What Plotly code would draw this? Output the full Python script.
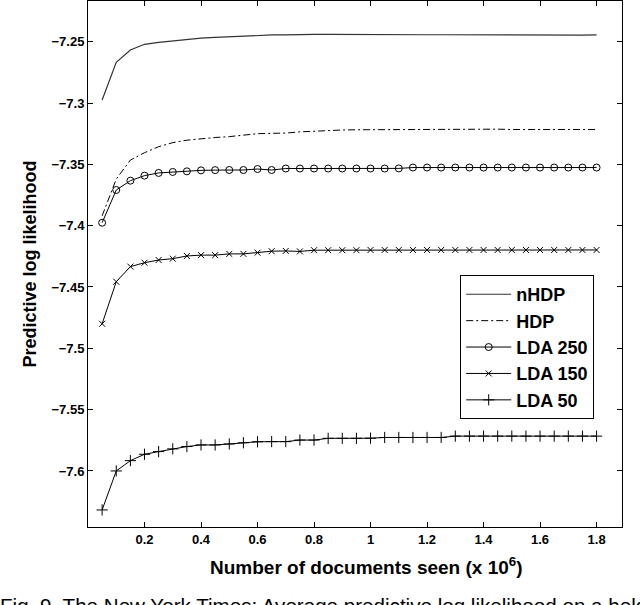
import plotly.graph_objects as go

docs_seen = [0.05, 0.10, 0.15, 0.20, 0.25, 0.30, 0.35, 0.40, 0.45, 0.50, 0.55, 0.60,
             0.65, 0.70, 0.75, 0.80, 0.85, 0.90, 0.95, 1.00, 1.05, 1.10, 1.15, 1.20,
             1.25, 1.30, 1.35, 1.40, 1.45, 1.50, 1.55, 1.60, 1.65, 1.70, 1.75, 1.80]

nhdp = [-7.2975, -7.2668, -7.2568, -7.2521, -7.2505, -7.2492, -7.2480, -7.2470, -7.2465, -7.2459, -7.2452, -7.2446,
        -7.2445, -7.2445, -7.2441, -7.2440, -7.2440, -7.2441, -7.2444, -7.2443, -7.2444, -7.2442, -7.2444, -7.2443,
        -7.2443, -7.2444, -7.2444, -7.2444, -7.2444, -7.2444, -7.2444, -7.2444, -7.2448, -7.2452, -7.2447, -7.2445]

hdp = [-7.3920, -7.3620, -7.3465, -7.3405, -7.3356, -7.3323, -7.3303, -7.3290, -7.3281, -7.3274, -7.3262, -7.3250,
       -7.3247, -7.3245, -7.3235, -7.3228, -7.3222, -7.3220, -7.3218, -7.3217, -7.3217, -7.3216, -7.3217, -7.3217,
       -7.3216, -7.3217, -7.3214, -7.3212, -7.3213, -7.3216, -7.3217, -7.3216, -7.3217, -7.3216, -7.3217, -7.3216]

lda250 = [-7.3976, -7.3709, -7.3633, -7.3592, -7.3570, -7.3562, -7.3557, -7.3549, -7.3547, -7.3546, -7.3546, -7.3538,
          -7.3546, -7.3534, -7.3534, -7.3534, -7.3534, -7.3534, -7.3534, -7.3534, -7.3534, -7.3533, -7.3526, -7.3526,
          -7.3526, -7.3526, -7.3526, -7.3526, -7.3526, -7.3526, -7.3526, -7.3526, -7.3526, -7.3526, -7.3526, -7.3526]

lda150 = [-7.4800, -7.4457, -7.4334, -7.4302, -7.4280, -7.4269, -7.4247, -7.4240, -7.4240, -7.4230, -7.4230, -7.4220,
          -7.4208, -7.4206, -7.4210, -7.4200, -7.4200, -7.4200, -7.4200, -7.4198, -7.4198, -7.4198, -7.4198, -7.4198,
          -7.4198, -7.4198, -7.4198, -7.4198, -7.4198, -7.4198, -7.4198, -7.4198, -7.4198, -7.4198, -7.4198, -7.4198]

lda50 = [-7.6318, -7.6000, -7.5916, -7.5864, -7.5842, -7.5820, -7.5801, -7.5788, -7.5788, -7.5780, -7.5770, -7.5762,
         -7.5761, -7.5761, -7.5748, -7.5748, -7.5734, -7.5734, -7.5734, -7.5733, -7.5727, -7.5727, -7.5727, -7.5727,
         -7.5727, -7.5716, -7.5716, -7.5716, -7.5716, -7.5716, -7.5716, -7.5716, -7.5716, -7.5716, -7.5716, -7.5716]

x_ticks = [0.2, 0.4, 0.6, 0.8, 1.0, 1.2, 1.4, 1.6, 1.8]
x_tick_labels = ["0.2", "0.4", "0.6", "0.8", "1", "1.2", "1.4", "1.6", "1.8"]
y_ticks = [-7.25, -7.3, -7.35, -7.4, -7.45, -7.5, -7.55, -7.6]
y_tick_labels = ["\u22127.25", "\u22127.3", "\u22127.35", "\u22127.4", "\u22127.45", "\u22127.5", "\u22127.55", "\u22127.6"]

FONT = "Liberation Sans, Arial, Helvetica, sans-serif"

fig = go.Figure()
fig.add_trace(go.Scatter(x=docs_seen, y=nhdp, name="nHDP", mode="lines",
                         line=dict(color="#333333", width=1.2)))
fig.add_trace(go.Scatter(x=docs_seen, y=hdp, name="HDP", mode="lines",
                         line=dict(color="black", width=1, dash="7px,3px,2px,3px")))
fig.add_trace(go.Scatter(x=docs_seen, y=lda250, name="LDA 250", mode="lines+markers",
                         line=dict(color="black", width=1),
                         marker=dict(symbol="circle-open", size=7, color="black", line=dict(width=1))))
fig.add_trace(go.Scatter(x=docs_seen, y=lda150, name="LDA 150", mode="lines+markers",
                         line=dict(color="black", width=1),
                         marker=dict(symbol="x-thin-open", size=6, color="black", line=dict(width=1))))
fig.add_trace(go.Scatter(x=docs_seen, y=lda50, name="LDA 50", mode="lines+markers",
                         line=dict(color="black", width=1),
                         marker=dict(symbol="cross-thin-open", size=8, color="black", line=dict(width=1))))

fig.update_layout(
    width=640, height=605,
    margin=dict(l=88, r=18, t=1, b=78, autoexpand=False),
    paper_bgcolor="white", plot_bgcolor="white",
    font=dict(family=FONT, color="black"),
    showlegend=True,
    legend=dict(x=0.697, y=0.479, xanchor="left", yanchor="top",
                bgcolor="white", bordercolor="black", borderwidth=1,
                font=dict(family=FONT, size=18, weight="bold", color="black"),
                tracegroupgap=0, itemwidth=45),
    annotations=[
        dict(text="Number of documents seen (x 10<sup>6</sup>)",
             xref="paper", yref="paper", x=0.522, y=-0.074,
             xanchor="center", yanchor="middle", showarrow=False,
             font=dict(family=FONT, size=19, weight="bold", color="black")),
        dict(text="Fig. 9. The New York Times: Average predictive log likelihood on a held-out",
             xref="paper", yref="paper", x=-0.168, y=-0.123,
             xanchor="left", yanchor="top", showarrow=False,
             font=dict(family=FONT, size=20.6, color="black")),
    ],
)

fig.update_xaxes(range=[0, 1.89], tickvals=x_ticks, ticktext=x_tick_labels,
                 ticks="inside", ticklen=5, tickcolor="black", tickwidth=1,
                 showline=True, linecolor="black", linewidth=1, mirror="ticks",
                 showgrid=False, zeroline=False, automargin=False,
                 tickfont=dict(family=FONT, size=13, weight="bold"))
fig.update_yaxes(range=[-7.6457, -7.2168], tickvals=y_ticks, ticktext=y_tick_labels,
                 ticks="inside", ticklen=5, tickcolor="black", tickwidth=1,
                 showline=True, linecolor="black", linewidth=1, mirror="ticks",
                 showgrid=False, zeroline=False, automargin=False,
                 tickfont=dict(family=FONT, size=13, weight="bold"),
                 title=dict(text="Predictive log likelihood",
                            font=dict(family=FONT, size=18, weight="bold"), standoff=10))

fig.write_html("out.html", config={"displayModeBar": False},
               post_script="document.body.style.margin='0';document.body.style.overflow='hidden';")
